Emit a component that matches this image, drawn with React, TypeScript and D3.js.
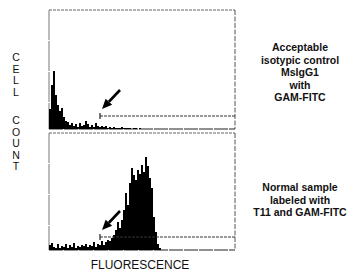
import React from 'react'
import * as d3 from 'd3'

// histogram counts, one value per channel bin
const controlCounts = [
  20, 44, 58, 34, 24, 18, 21, 12, 8, 7, 4, 6, 3, 5, 2, 6, 3, 4, 8, 5,
  2, 4, 2, 6, 3, 2, 3, 2, 3, 1, 2, 1, 2, 1, 1, 1, 2, 1, 1, 1,
  1, 0, 1, 1, 0, 1, 0, 0, 0, 0,
]
const sampleCounts = [
  5, 7, 3, 2, 6, 2, 4, 3, 6, 2, 5, 3, 7, 2, 4, 3, 5, 4, 6, 3,
  5, 4, 8, 3, 6, 5, 9, 5, 8, 10, 9, 12, 15, 20, 28, 22, 30, 40, 57, 45,
  67, 82, 75, 70, 80, 76, 85, 78, 93, 84, 72, 62, 33, 18, 6, 2, 0, 0,
]
const channelCount = 93

const gate = { start: 25.5, level: 13 }
const arrow = { from: [35.5, 39], to: [26.5, 20] }

const yWords = ['CELL', 'COUNT']
const controlLabel = ['Acceptable', 'isotypic control', 'MsIgG1', 'with', 'GAM-FITC']
const sampleLabel = ['Normal sample', 'labeled with', 'T11 and GAM-FITC']
const xLabel = 'FLUORESCENCE'

const width = 362
const height = 272
const left = 49
const right = 235
const panels = [
  { top: 10, bottom: 129, counts: controlCounts, label: controlLabel, labelY: 51 },
  { top: 133, bottom: 250, counts: sampleCounts, label: sampleLabel, labelY: 191 },
]

const font = 'Liberation Sans, Arial, Helvetica, sans-serif'

function Panel({ p, x }) {
  const y = d3.scaleLinear().domain([0, p.bottom - p.top]).range([p.bottom, p.top])
  const data = p.counts.concat([0])
  const area = d3.area<number>()
    .x((_d, i) => x(i))
    .y0(y(0))
    .y1(d => y(d))
    .curve(d3.curveStepAfter)

  const [x1, y1] = [x(arrow.from[0]), y(arrow.from[1])]
  const [x2, y2] = [x(arrow.to[0]), y(arrow.to[1])]
  const ang = Math.atan2(y2 - y1, x2 - x1)
  const hl = 10, hw = 4.5
  const bx = x2 - hl * Math.cos(ang), by = y2 - hl * Math.sin(ang)
  const head = [
    [x2, y2],
    [bx + hw * Math.sin(ang), by - hw * Math.cos(ang)],
    [bx - hw * Math.sin(ang), by + hw * Math.cos(ang)],
  ]

  const gx = x(gate.start), gy = y(gate.level)

  return (
    <g>
      {/* frame */}
      <line x1={left} x2={right} y1={p.top} y2={p.top} stroke="#666" strokeWidth={1} strokeDasharray="3,1" />
      <line x1={left} x2={left} y1={p.top} y2={p.bottom} stroke="#777" strokeWidth={1} strokeDasharray="30,1" />
      <line x1={right} x2={right} y1={p.top} y2={p.bottom} stroke="#555" strokeWidth={1} strokeDasharray="5,1.5" />
      <line x1={left} x2={right} y1={p.bottom} y2={p.bottom} stroke="#222" strokeWidth={1.2} strokeDasharray="14,1" />

      <path d={area(data)} fill="#000" />

      {/* gate marker */}
      <line x1={gx} x2={right} y1={gy} y2={gy} stroke="#333" strokeWidth={1} strokeDasharray="3,1" />
      <line x1={gx} x2={gx} y1={gy - 3} y2={gy + 3} stroke="#222" strokeWidth={1.2} />

      <line x1={x1} y1={y1} x2={bx} y2={by} stroke="#000" strokeWidth={2.6} />
      <polygon points={head.map(d => d.join(',')).join(' ')} fill="#000" />

      <text fontFamily={font} fontWeight="bold" fontSize={10.5} textAnchor="middle" fill="#111">
        {p.label.map((t, i) => (
          <tspan key={i} x={300} y={p.labelY + i * 12.5}>{t}</tspan>
        ))}
      </text>
    </g>
  )
}

export default function App() {
  const x = d3.scaleLinear().domain([0, channelCount]).range([left, right])
  const wordTop = [61, 124]

  return (
    <div style={{ position: 'absolute', left: 0, top: 0 }}>
      <svg width={width} height={height} style={{ display: 'block', background: '#fff' }}>
        {panels.map((p, i) => <Panel key={i} p={p} x={x} />)}

        <text fontFamily={font} fontSize={10.5} textAnchor="middle" fill="#111">
          {yWords.map((w, j) => w.split('').map((c, i) => (
            <tspan key={j + '-' + i} x={16} y={wordTop[j] + i * 11.5}>{c}</tspan>
          )))}
        </text>

        <text x={(left + right) / 2 - 2} y={268.5} fontFamily={font} fontSize={12}
          textAnchor="middle" fill="#111">{xLabel}</text>
      </svg>
    </div>
  )
}
